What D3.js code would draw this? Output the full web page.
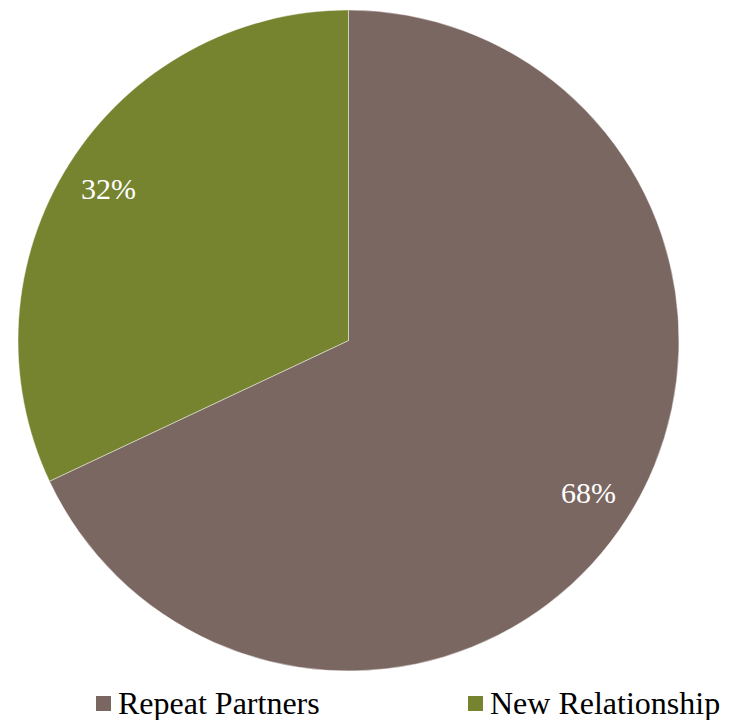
<!DOCTYPE html>
<html>
<head>
<meta charset="utf-8">
<script src="https://cdn.jsdelivr.net/npm/d3@7"></script>
<style>
html,body{margin:0;padding:0;background:#fff;}
svg{display:block;}
</style>
</head>
<body>
<svg id="chart" width="736" height="720"></svg>
<script>
const categories = ["Repeat Partners", "New Relationship"];
const values = [68, 32];
const labels = ["68%", "32%"];
const colors = ["#7B6761", "#76832F"];

const svg = d3.select("#chart");
const cx = 348.5, cy = 340.5, r = 330.5;

const pie = d3.pie().sort(null).value(d => d)(values);
const arc = d3.arc().innerRadius(0).outerRadius(r);
const labelArc = d3.arc().innerRadius(r * 0.86).outerRadius(r * 0.86);

const g = svg.append("g").attr("transform", `translate(${cx},${cy})`);
g.selectAll("path").data(pie).join("path")
  .attr("d", arc)
  .attr("fill", (d, i) => colors[i])
  .attr("stroke", "rgba(255,255,255,0.6)")
  .attr("stroke-width", 0.75);

g.selectAll("text").data(pie).join("text")
  .attr("transform", d => `translate(${labelArc.centroid(d)})`)
  .attr("text-anchor", "middle")
  .attr("dy", "0.35em")
  .attr("fill", "#fff")
  .attr("font-family", "'Liberation Serif', 'Times New Roman', serif")
  .attr("font-size", 30)
  .text((d, i) => labels[i]);

const legendX = [96, 468];
const leg = svg.append("g");
categories.forEach((c, i) => {
  leg.append("rect")
    .attr("x", legendX[i]).attr("y", 696)
    .attr("width", 15).attr("height", 15)
    .attr("fill", colors[i]);
  leg.append("text")
    .attr("x", legendX[i] + 22).attr("y", 714)
    .attr("font-family", "'Liberation Serif', 'Times New Roman', serif")
    .attr("font-size", 32)
    .attr("fill", "#000")
    .text(c);
});
</script>
</body>
</html>
